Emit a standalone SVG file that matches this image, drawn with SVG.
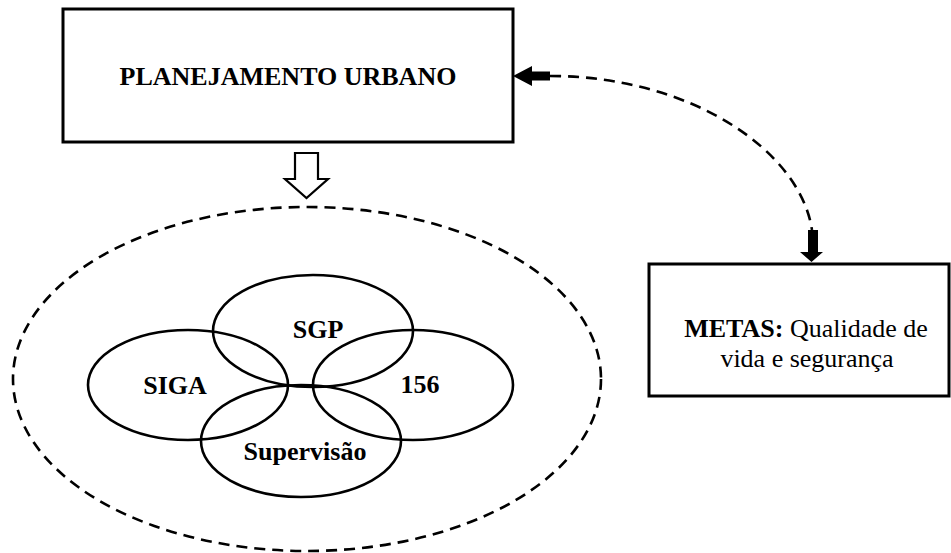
<svg xmlns="http://www.w3.org/2000/svg" width="951" height="553" viewBox="0 0 951 553">
<style>
.box{fill:#fff;stroke:#000;stroke-width:3}
.ell{fill:none;stroke:#000;stroke-width:2.6}
.dash{fill:none;stroke:#000;stroke-width:2.6;stroke-dasharray:11 7}
.tb{font-family:"Liberation Serif","Times New Roman",serif;font-weight:bold;font-size:26px;fill:#000}
.tr{font-family:"Liberation Serif","Times New Roman",serif;font-size:26px;fill:#000}
</style>
<rect width="951" height="553" fill="#fff"/>
<g id="planejamento">
<rect class="box" x="63" y="9" width="450" height="133"/>
<text class="tb" x="288" y="85" text-anchor="middle">PLANEJAMENTO URBANO</text>
</g>
<g id="grupo">
<ellipse class="dash" cx="307" cy="379" rx="294" ry="172"/>
<g id="sgp">
<ellipse class="ell" cx="313" cy="331" rx="100" ry="56"/>
<text class="tb" x="318" y="338" text-anchor="middle">SGP</text>
</g>
<g id="siga">
<ellipse class="ell" cx="188" cy="385" rx="100" ry="55"/>
<text class="tb" x="175" y="394" text-anchor="middle">SIGA</text>
</g>
<g id="n156">
<ellipse class="ell" cx="413" cy="385" rx="100" ry="55"/>
<text class="tb" x="420" y="393" text-anchor="middle">156</text>
</g>
<g id="supervisao">
<ellipse class="ell" cx="301" cy="441" rx="100" ry="56"/>
<text class="tb" x="305" y="460" text-anchor="middle">Supervisão</text>
</g>
</g>
<g id="metas">
<rect class="box" x="649" y="264" width="300" height="132"/>
<text class="tr" x="806" y="337" text-anchor="middle"><tspan font-weight="bold">METAS:</tspan> Qualidade de</text>
<text class="tr" x="807" y="367" text-anchor="middle">vida e segurança</text>
</g>
<g id="connectors">
<polygon points="295,153 318,153 318,179 328,179 306.5,198 285,179 295,179" fill="#fff" stroke="#000" stroke-width="2.2" stroke-linejoin="miter"/>
<path class="dash" d="M550,76 C690,76 800,150 812,230"/>
<polygon points="513,76 532,66 532,71.5 550,71.5 550,80.5 532,80.5 532,86" fill="#000"/>
<polygon points="808,230 818,230 818,252 823,252 811.5,262 800,252 808,252" fill="#000"/>
</g>
</svg>
